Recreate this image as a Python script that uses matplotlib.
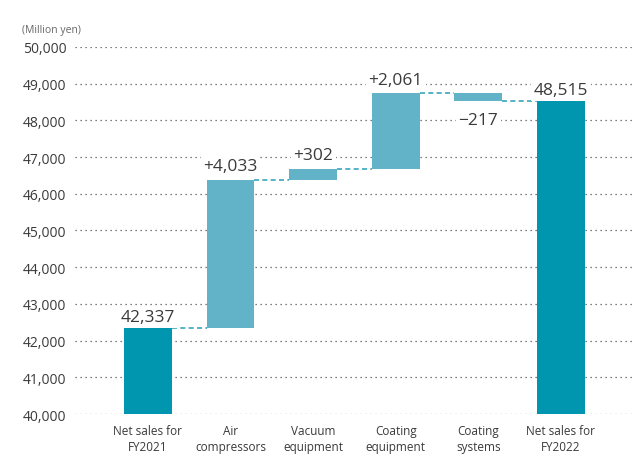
import matplotlib
matplotlib.use("Agg")
import matplotlib.pyplot as plt

categories = ["Net sales for\nFY2021", "Air\ncompressors", "Vacuum\nequipment",
              "Coating\nequipment", "Coating\nsystems", "Net sales for\nFY2022"]
start_total = 42337
changes = [4033, 302, 2061, -217]
end_total = 48515
change_labels = ["+4,033", "+302", "+2,061", "\u2212217"]
yticks = list(range(40000, 50001, 1000))

TOTAL_COLOR = "#0096b0"
DELTA_COLOR = "#62b3c7"
LINK_COLOR = "#3aa6bc"
TEXT_COLOR = "#3a3a3a"

plt.rcParams["font.family"] = ["Open Sans", "DejaVu Sans"]

fig = plt.figure(figsize=(6.34, 4.64), dpi=100)
ax = fig.add_axes([0.118, 0.1056, 0.882, 0.791])
ax.set_ylim(40000, 50000)
ax.set_xlim(-0.884, 5.884)

width = 0.58
x = list(range(len(categories)))

# totals
ax.bar(x[0], start_total - 40000, bottom=40000, width=width, color=TOTAL_COLOR, zorder=3)
ax.bar(x[-1], end_total - 40000, bottom=40000, width=width, color=TOTAL_COLOR, zorder=3)

# incremental bars
level = start_total
levels = [start_total]
for i, d in enumerate(changes):
    lo, hi = (level, level + d) if d >= 0 else (level + d, level)
    ax.bar(x[i + 1], hi - lo, bottom=lo, width=width, color=DELTA_COLOR, zorder=3)
    level += d
    levels.append(level)

# dashed connectors between bars
for i in range(len(levels)):
    y = levels[i]
    ax.plot([x[i] + width / 2, x[i + 1] - width / 2], [y, y], color=LINK_COLOR,
            lw=1.2, ls=(0, (3, 2)), zorder=2)

bbox = dict(boxstyle="square,pad=0.15", fc="white", ec="none")
ax.text(x[0], start_total + 90, f"{start_total:,}", ha="center", va="bottom",
        fontsize=12.5, color=TEXT_COLOR, bbox=bbox, zorder=4)
ax.text(x[-1], end_total + 90, f"{end_total:,}", ha="center", va="bottom",
        fontsize=12.5, color=TEXT_COLOR, bbox=bbox, zorder=4)
prev = start_total
for i, d in enumerate(changes):
    top = max(prev, prev + d)
    bot = min(prev, prev + d)
    if d >= 0:
        ax.text(x[i + 1], top + 160, change_labels[i], ha="center", va="bottom",
                fontsize=12.5, color=TEXT_COLOR, bbox=bbox, zorder=4)
    else:
        ax.text(x[i + 1], bot - 280, change_labels[i], ha="center", va="top",
                fontsize=12.5, color=TEXT_COLOR, bbox=bbox, zorder=4)
    prev += d

ax.set_yticks(yticks)
ax.set_yticklabels([f"{v:,}" for v in yticks], fontsize=10, color=TEXT_COLOR)
ax.yaxis.grid(True, ls=(0, (1, 3)), color="#555555", lw=0.9, zorder=0)
ax.set_axisbelow(True)
ax.tick_params(axis="y", length=0, pad=6)
ax.set_xticks(x)
ax.set_xticklabels(categories, fontsize=8.5, color=TEXT_COLOR, linespacing=1.35)
ax.tick_params(axis="x", length=0, pad=7)
for s in ax.spines.values():
    s.set_visible(False)

fig.text(22 / 634, 1 - 30 / 464, "(Million yen)", fontsize=7.5, color="#666666",
         ha="left", va="center")

fig.savefig("out.png", dpi=100)
